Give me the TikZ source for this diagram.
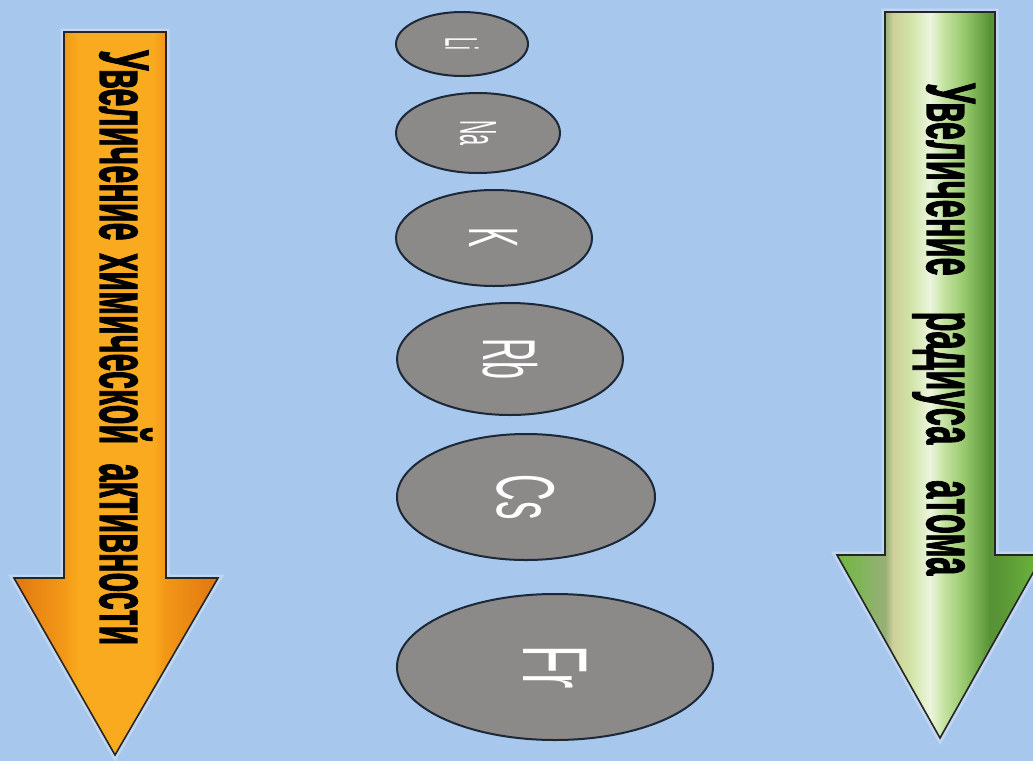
\documentclass[tikz,border=0pt]{standalone}
\usepackage{fontspec}
\setmainfont{Liberation Sans}[BoldFeatures={FakeBold=2}]
\usepackage{graphicx}
\usetikzlibrary{shapes.geometric}
\definecolor{bgblue}{RGB}{167,199,236}
\definecolor{atomgray}{RGB}{139,138,137}
\definecolor{atomline}{RGB}{28,40,56}
\definecolor{orbright}{RGB}{250,170,30}
\definecolor{ormid}{RGB}{242,152,24}
\definecolor{orside}{RGB}{234,136,20}
\definecolor{ordark}{RGB}{224,118,16}
\definecolor{grhead}{RGB}{110,184,62}
\definecolor{grgray}{RGB}{150,176,120}
\definecolor{grtan}{RGB}{205,208,152}
\definecolor{grpale}{RGB}{210,228,168}
\definecolor{grwhite}{RGB}{236,245,222}
\definecolor{grlight}{RGB}{196,226,160}
\definecolor{grmid}{RGB}{150,200,108}
\definecolor{grdark}{RGB}{88,148,54}
% horizontal shadings of the two big arrows (bbox mapped to 25bp..75bp)
\pgfdeclarehorizontalshading{orangearrow}{100bp}{color(0bp)=(ordark);
  color(25bp)=(ordark); color(31bp)=(orside); color(37bp)=(ormid);
  color(41bp)=(orbright); color(59bp)=(orbright); color(62bp)=(ormid);
  color(68bp)=(orside); color(75bp)=(ordark); color(100bp)=(ordark)}
\pgfdeclarehorizontalshading{greenarrow}{100bp}{color(0bp)=(grhead);
  color(25bp)=(grhead); color(36.7bp)=(grgray); color(38.6bp)=(grtan);
  color(43bp)=(grpale); color(47.6bp)=(grwhite); color(51bp)=(grlight);
  color(56bp)=(grmid); color(62bp)=(grdark); color(64bp)=(grdark);
  color(75bp)=(grhead); color(100bp)=(grhead)}
\tikzstyle{atom}=[ellipse, draw=atomline, fill=atomgray, line width=2pt,
  inner sep=0pt, text=white]
\tikzstyle{arrowbody}=[draw=black!85, line width=1.6pt, line join=miter]
\tikzstyle{halo}=[draw=white, line width=7pt, opacity=0.3]
\tikzstyle{caption}=[rotate=-90, anchor=base west, inner sep=0pt, text=black]
\newcommand{\atom}[6]{node (#1) [atom, minimum width=#2pt, minimum height=#3pt]
  {\rotatebox{-90}{\scalebox{#5}[1]{\fontsize{#4}{#4}\selectfont #6}}}}

\begin{document}
\begin{tikzpicture}[x=1pt,y=-1pt]

  % Draw background
  \clip (0,0) rectangle (1033,761);
  \fill[bgblue] (0,0) rectangle (1033,761);

  % Draw the two arrows
  \path[halo] (64,32) -- (166,32) -- (166,578) -- (218,578) -- (115,755)
    -- (14,578) -- (64,578) -- cycle;
  \path[arrowbody, shading=orangearrow] (64,32) -- (166,32) -- (166,578)
    -- (218,578) -- (115,755) -- (14,578) -- (64,578) -- cycle;
  \path[halo] (885,12) -- (995,12) -- (995,555) -- (1043,555) -- (940,738)
    -- (837,555) -- (885,555) -- cycle;
  \path[arrowbody, shading=greenarrow] (885,12) -- (995,12) -- (995,555)
    -- (1043,555) -- (940,738) -- (837,555) -- (885,555) -- cycle;

  % Draw arrow captions
  \node (ACTIVITY) [caption] at (100,50) {\resizebox{595pt}{52pt}{\bfseries
    Увеличение\hspace{0.4em}химической\hspace{0.6em}активности}};
  \node (RADIUS) [caption] at (927,83) {\resizebox{492pt}{48pt}{\bfseries
    Увеличение\hspace{1.1em}радиуса\hspace{1.1em}атома}};

  % Draw atoms
  \path (462,44) \atom{LI}{132}{64}{46}{0.36}{Li};
  \path (478,133) \atom{NA}{164}{80}{52}{0.38}{Na};
  \path (494,238) \atom{K}{196}{96}{70}{0.43}{K};
  \path (510,359) \atom{RB}{226}{112}{75}{0.43}{Rb};
  \path (526,497) \atom{CS}{258}{126}{82}{0.45}{Cs};
  \path (555,667) \atom{FR}{316}{146}{92}{0.5}{Fr};

\end{tikzpicture}
\end{document}
